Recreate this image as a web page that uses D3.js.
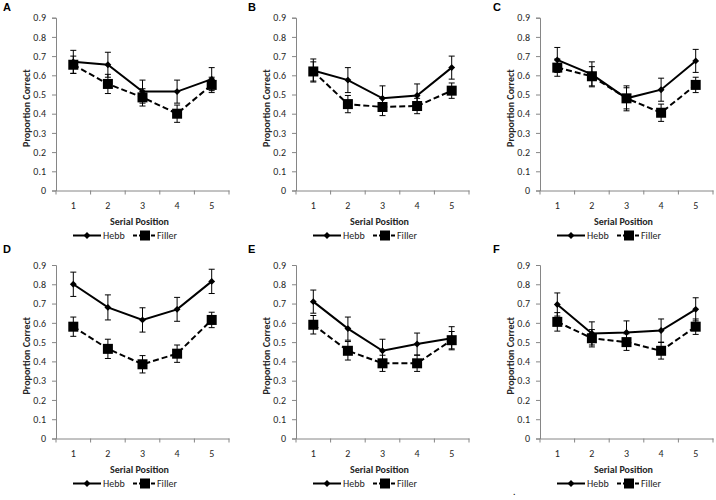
<!DOCTYPE html>
<html><head><meta charset="utf-8">
<script src="https://cdn.jsdelivr.net/npm/d3@7"></script>
<style>
body{margin:0;background:#fff;}
svg text{font-family:Carlito,Lato,"Liberation Sans",sans-serif;}
</style></head>
<body><svg id="c" width="716" height="500"></svg>
<script>
const panelLabels = ["A","B","C","D","E","F"];
const positions = [1,2,3,4,5];
const yTicks = [0,0.1,0.2,0.3,0.4,0.5,0.6,0.7,0.8,0.9];
const seriesNames = ["Hebb","Filler"];
const xTitle = "Serial Position";
const yTitle = "Proportion Correct";

const hebbA = [0.67,0.655,0.515,0.515,0.58];
const hebbErrA = [0.06,0.065,0.06,0.06,0.06];
const fillerA = [0.655,0.555,0.485,0.40,0.55];
const fillerErrA = [0.045,0.05,0.045,0.045,0.04];

const hebbB = [0.625,0.575,0.48,0.495,0.64];
const hebbErrB = [0.06,0.065,0.065,0.06,0.06];
const fillerB = [0.62,0.45,0.435,0.44,0.52];
const fillerErrB = [0.05,0.045,0.045,0.04,0.04];

const hebbC = [0.68,0.605,0.48,0.525,0.675];
const hebbErrC = [0.065,0.065,0.065,0.06,0.06];
const fillerC = [0.64,0.595,0.48,0.405,0.55];
const fillerErrC = [0.045,0.05,0.055,0.045,0.04];

const hebbD = [0.80,0.68,0.615,0.67,0.815];
const hebbErrD = [0.063,0.065,0.063,0.062,0.063];
const fillerD = [0.58,0.465,0.385,0.44,0.615];
const fillerErrD = [0.05,0.05,0.045,0.045,0.04];

const hebbE = [0.71,0.57,0.455,0.49,0.52];
const hebbErrE = [0.06,0.06,0.06,0.057,0.06];
const fillerE = [0.59,0.455,0.39,0.39,0.51];
const fillerErrE = [0.048,0.048,0.042,0.042,0.045];

const hebbF = [0.695,0.545,0.55,0.56,0.67];
const hebbErrF = [0.06,0.06,0.06,0.06,0.06];
const fillerF = [0.605,0.52,0.50,0.455,0.58];
const fillerErrF = [0.048,0.045,0.043,0.043,0.04];

const panels = [
  {hebb:hebbA,hErr:hebbErrA,filler:fillerA,fErr:fillerErrA},
  {hebb:hebbB,hErr:hebbErrB,filler:fillerB,fErr:fillerErrB},
  {hebb:hebbC,hErr:hebbErrC,filler:fillerC,fErr:fillerErrC},
  {hebb:hebbD,hErr:hebbErrD,filler:fillerD,fErr:fillerErrD},
  {hebb:hebbE,hErr:hebbErrE,filler:fillerE,fErr:fillerErrE},
  {hebb:hebbF,hErr:hebbErrF,filler:fillerF,fErr:fillerErrF}
];

// layout
const colAxisX = [56, 296, 540];
const colLabelX = [3, 248, 493];
const rowTop = [17.7, 265];
const rowZero = [190.5, 438.5];
const rowLabelY = [11, 253];
const plotW = 173;
const axisColor = "#868686";
const textColor = "#262626";

const svg = d3.select("#c");

panels.forEach((p, i) => {
  const col = i % 3, row = Math.floor(i / 3);
  const x0 = colAxisX[col];
  const x = d3.scaleBand().domain(positions).range([x0, x0 + plotW]);
  const y = d3.scaleLinear().domain([0, 0.9]).range([rowZero[row], rowTop[row]]);
  const g = svg.append("g");

  // panel letter
  g.append("text").attr("x", colLabelX[col]).attr("y", rowLabelY[row])
    .attr("font-size", 11).attr("font-weight", "bold").attr("fill", "#000")
    .style("font-family", "'Liberation Sans',Arial,sans-serif")
    .text(panelLabels[i]);

  // y axis
  const ya = g.append("g").attr("transform", `translate(${x0},0)`)
    .call(d3.axisLeft(y).tickValues(yTicks).tickSize(4).tickPadding(6)
      .tickFormat(d => d === 0 ? "0" : d3.format(".1f")(d)));
  ya.selectAll("path,line").attr("stroke", axisColor);
  ya.selectAll("text").attr("font-size", 10).attr("fill", textColor)
    .style("font-family", "Carlito,Lato,'Liberation Sans',sans-serif");

  // x axis with ticks at category boundaries
  const xa = g.append("g").attr("transform", `translate(0,${rowZero[row]})`)
    .call(d3.axisBottom(x).tickSize(0).tickPadding(11));
  xa.select("path").attr("stroke", axisColor);
  xa.selectAll("text").attr("font-size", 10).attr("fill", textColor)
    .style("font-family", "Carlito,Lato,'Liberation Sans',sans-serif");
  const bounds = positions.map(d => x(d)).concat([x0 + plotW]);
  xa.selectAll("line.bt").data(bounds).join("line").attr("class", "bt")
    .attr("x1", d => d).attr("x2", d => d).attr("y1", 0).attr("y2", 4)
    .attr("stroke", axisColor);

  const cx = d => x(d) + x.bandwidth() / 2;

  // axis titles
  g.append("text").attr("x", x0 + plotW / 2 - 3).attr("y", rowZero[row] + 34)
    .attr("text-anchor", "middle").attr("font-size", 10).attr("font-weight", "bold")
    .attr("fill", textColor).text(xTitle);
  const ly = (rowTop[row] + rowZero[row]) / 2 + 4;
  g.append("text").attr("transform", `translate(${x0 - 26},${ly}) rotate(-90)`)
    .attr("text-anchor", "middle").attr("font-size", 10).attr("font-weight", "bold")
    .attr("fill", textColor).text(yTitle);

  const series = [
    {vals: p.hebb, err: p.hErr, dash: null, marker: "diamond"},
    {vals: p.filler, err: p.fErr, dash: "6,3", marker: "square"}
  ];
  series.forEach(s => {
    const pts = positions.map((d, k) => ({x: cx(d), v: s.vals[k], e: s.err[k]}));
    // error bars
    const eb = g.append("g").attr("stroke", "#000").attr("stroke-width", 1);
    pts.forEach(pt => {
      eb.append("line").attr("x1", pt.x).attr("x2", pt.x)
        .attr("y1", y(pt.v - pt.e)).attr("y2", y(pt.v + pt.e));
      [pt.v - pt.e, pt.v + pt.e].forEach(v => eb.append("line")
        .attr("x1", pt.x - 3).attr("x2", pt.x + 3).attr("y1", y(v)).attr("y2", y(v)));
    });
    g.append("path").datum(pts)
      .attr("d", d3.line().x(d => d.x).y(d => y(d.v)))
      .attr("fill", "none").attr("stroke", "#000").attr("stroke-width", 2)
      .attr("stroke-dasharray", s.dash);
    pts.forEach(pt => {
      if (s.marker === "diamond") {
        g.append("path").attr("d", d3.symbol(d3.symbolDiamond2, 30)())
          .attr("transform", `translate(${pt.x},${y(pt.v)}) rotate(0)`).attr("fill", "#000");
      } else {
        g.append("rect").attr("x", pt.x - 5).attr("y", y(pt.v) - 5)
          .attr("width", 10).attr("height", 10).attr("fill", "#000");
      }
    });
  });

  // legend
  const lgY = rowZero[row] + 45;
  const lg = g.append("g");
  lg.append("line").attr("x1", x0 + 17).attr("x2", x0 + 45).attr("y1", lgY).attr("y2", lgY)
    .attr("stroke", "#000").attr("stroke-width", 2);
  lg.append("path").attr("d", d3.symbol(d3.symbolDiamond2, 30)())
    .attr("transform", `translate(${x0 + 31},${lgY})`).attr("fill", "#000");
  lg.append("text").attr("x", x0 + 47).attr("y", lgY + 3.5).attr("font-size", 10)
    .attr("fill", textColor).text(seriesNames[0]);
  lg.append("line").attr("x1", x0 + 77).attr("x2", x0 + 100).attr("y1", lgY).attr("y2", lgY)
    .attr("stroke", "#000").attr("stroke-width", 2).attr("stroke-dasharray", "4,2");
  lg.append("rect").attr("x", x0 + 84).attr("y", lgY - 5).attr("width", 10).attr("height", 10)
    .attr("fill", "#000");
  lg.append("text").attr("x", x0 + 101).attr("y", lgY + 3.5).attr("font-size", 10)
    .attr("fill", textColor).text(seriesNames[1]);
});

svg.append("text").attr("x", 513).attr("y", 495).attr("font-size", 10).attr("fill", "#000").text(".");
</script></body></html>
